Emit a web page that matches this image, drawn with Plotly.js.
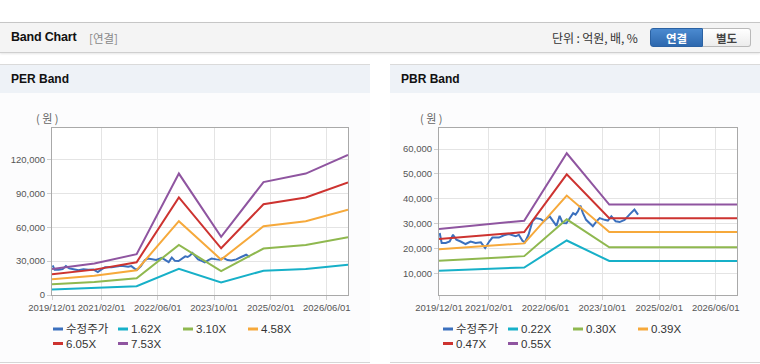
<!DOCTYPE html>
<html><head><meta charset="utf-8">
<script src="https://cdn.plot.ly/plotly-3.0.1.min.js"></script>
<style>
body{margin:0;width:760px;height:364px;overflow:hidden;background:#fff;position:relative;font-family:"Liberation Sans",Arial,"Noto Sans CJK KR",sans-serif}
#topbar{position:absolute;left:0;top:22px;width:760px;height:29px;background:#f4f4f4;border-top:1px solid #c6c6c6;border-bottom:1px solid #cfcfcf;box-shadow:0 1px 2px rgba(0,0,0,0.10)}
#title{position:absolute;left:11px;top:7px;font-size:12.5px;font-weight:bold;color:#111;letter-spacing:-0.2px}
#sub{position:absolute;left:89px;top:8px;font-size:11.5px;color:#888;font-family:"Noto Sans CJK KR",sans-serif;line-height:14px}
#unit{position:absolute;left:552px;top:8px;font-size:12px;color:#333;font-family:"Noto Sans CJK KR",sans-serif;line-height:14px;letter-spacing:-0.1px}
.btn{position:absolute;top:5px;height:19px;line-height:19px;text-align:center;font-size:11.5px;font-weight:bold;font-family:"Noto Sans CJK KR",sans-serif;box-sizing:border-box}
#b1{left:650px;width:53px;color:#fff;background:linear-gradient(#4b8ad0,#2d68ae);border:1px solid #2b62a3;border-radius:3px 0 0 3px}
#b2{left:703px;width:48px;color:#444;background:linear-gradient(#ffffff,#ececec);border:1px solid #b9b9b9;border-left:none;border-radius:0 3px 3px 0}
.panel{position:absolute;top:64px;width:370px;height:299px;background:#fcfcfd;border-top:1px solid #dadada;border-bottom:1px solid #d6d6d6;box-sizing:border-box}
.phead{position:absolute;left:0;top:0;width:100%;height:28px;background:#eef2f7}
.ptitle{position:absolute;left:11px;top:7px;font-size:12px;font-weight:bold;color:#111}
.chart{position:absolute;top:93px;width:370px;height:270px}
</style></head>
<body>
<div id="topbar">
  <span id="title">Band Chart</span>
  <span id="sub">[연결]</span>
  <span id="unit">단위 : 억원, 배, %</span>
  <div class="btn" id="b1">연결</div>
  <div class="btn" id="b2">별도</div>
</div>
<div class="panel" style="left:0"><div class="phead"><span class="ptitle">PER Band</span></div></div>
<div class="panel" style="left:390px"><div class="phead"><span class="ptitle">PBR Band</span></div></div>
<div class="chart" id="per" style="left:0"></div>
<div class="chart" id="pbr" style="left:390px"></div>
<script>
// ---- data ----
const xTickVals = ['2019-12-01','2021-02-01','2022-06-01','2023-10-01','2025-02-01','2026-06-01'];
const xTickText = ['2019/12/01','2021/02/01','2022/06/01','2023/10/01','2025/02/01','2026/06/01'];

const priceDates = ['2019-12-07','2019-12-24','2020-01-28','2020-03-02','2020-03-30','2020-04-28','2020-06-04','2020-07-16','2020-08-28','2020-10-10','2020-11-24','2020-12-31','2021-02-04','2021-03-03','2021-04-28','2021-06-10','2021-07-22','2021-09-19','2021-10-16','2021-11-16','2021-12-07','2022-01-07','2022-02-10','2022-03-10','2022-04-22','2022-05-19','2022-07-07','2022-08-04','2022-09-04','2022-10-01','2022-10-28','2022-11-28','2022-12-25','2023-01-25','2023-02-15','2023-03-07','2023-03-28','2023-04-19','2023-05-16','2023-06-16','2023-07-13','2023-08-13','2023-09-10','2023-10-22','2023-11-19','2023-12-19','2024-01-25','2024-02-28','2024-04-10','2024-05-22','2024-07-04','2024-08-04'];
const priceValues = [26300,22300,22300,22900,25600,23600,22900,21900,22900,22300,22600,20300,22900,24500,24500,25400,25900,25000,25600,23200,22600,25600,31000,32300,31900,31000,33000,31000,29200,33200,30300,30200,31900,34300,33700,35000,37300,34300,31600,30300,29000,31000,32300,31600,31300,33000,31000,30700,31600,33700,35700,33700];

const perBandDates = ['2019-12-01','2020-12-01','2021-12-01','2022-12-01','2023-12-01','2024-12-01','2025-12-01','2026-12-01'];
const per162 = [4941,6026,7776,23166,11097,21546,23166,26730];
const per310 = [9455,11532,14880,44330,21235,41230,44330,51150];
const per458 = [13969,17038,21984,65494,31373,60914,65494,75570];
const per605 = [18453,22506,29040,86515,41443,80465,86515,99825];
const per753 = [22967,28012,36144,107679,51581,100149,107679,124245];
const perNames = ['수정주가','1.62X','3.10X','4.58X','6.05X','7.53X'];
const perYTicks = [0,30000,60000,90000,120000];

const pbrBandDates = ['2019-12-01','2021-12-01','2022-12-01','2023-12-01','2026-12-01'];
const pbr022 = [11176,12496,23320,15092,15092];
const pbr030 = [15240,17040,31800,20580,20580];
const pbr039 = [19812,22152,41340,26754,26754];
const pbr047 = [23876,26696,49820,32242,32242];
const pbr055 = [27940,31240,58300,37730,37730];
const pbrNames = ['수정주가','0.22X','0.30X','0.39X','0.47X','0.55X'];
const pbrYTicks = [10000,20000,30000,40000,50000,60000];

const seriesColors = ['#3b70be','#17b0c8','#8fb84f','#f6a93b','#cd3330','#8f55a0'];

// ---- drawing ----
function makeChart(id, bandDates, bands, names, yTicks, yRange, margin, legStart, unitX) {
  const W = 370, H = 270;
  const pw = W - margin.l - margin.r, ph = H - margin.t - margin.b;
  const traces = [{x: priceDates, y: priceValues, name: names[0], type: 'scatter', mode: 'lines',
    line: {color: seriesColors[0], width: 2}}];
  bands.forEach((b, i) => traces.push({x: bandDates, y: b, name: names[i+1], type: 'scatter', mode: 'lines',
    line: {color: seriesColors[i+1], width: 2}}));
  const shapes = [], annotations = [];
  names.forEach((n, i) => {
    const col = i % 4, row = Math.floor(i / 4);
    const x0 = legStart + col * 65;
    const yPx = row === 0 ? 34 : 48.5;
    shapes.push({type: 'line', xref: 'paper', yref: 'paper', x0: x0 / pw, x1: (x0 + 10) / pw,
      y0: -yPx / ph, y1: -yPx / ph, line: {color: seriesColors[i], width: 3}});
    annotations.push({xref: 'paper', yref: 'paper', x: (x0 + 10.5) / pw, y: -yPx / ph, xanchor: 'left', yanchor: 'middle',
      text: n, showarrow: false, font: {size: 11.5, color: '#333', family: 'Liberation Sans, Arial, Noto Sans CJK KR'}});
  });
  annotations.push({xref: 'paper', yref: 'paper', x: unitX / pw, y: 1 + 10.5 / ph, xanchor: 'center', yanchor: 'middle',
    text: '( 원 )', showarrow: false, font: {size: 11, color: '#666', family: 'Noto Sans CJK KR'}});
  const layout = {
    width: W, height: H, margin: margin, showlegend: false,
    paper_bgcolor: 'rgba(0,0,0,0)', plot_bgcolor: '#ffffff',
    font: {family: 'Liberation Sans, Arial, sans-serif', size: 9.5, color: '#555'},
    xaxis: {type: 'date', range: ['2019-12-01', '2026-12-01'], tickvals: xTickVals, ticktext: xTickText,
      showgrid: true, gridcolor: '#e4e4e4', showline: true, linecolor: '#a9a9a9', mirror: true,
      ticks: 'outside', ticklen: 4, tickcolor: '#cfcfcf', zeroline: false, tickfont: {size: 9.5, color: '#555'}},
    yaxis: {range: yRange, tickvals: yTicks, tickformat: ',d', showgrid: true, gridcolor: '#e4e4e4',
      showline: true, linecolor: '#a9a9a9', mirror: true, ticks: 'outside', ticklen: 4, tickcolor: '#cfcfcf',
      zeroline: false, tickfont: {size: 9.5, color: '#555'}},
    shapes: shapes, annotations: annotations
  };
  Plotly.newPlot(id, traces, layout, {staticPlot: true, displayModeBar: false});
}

makeChart('per', perBandDates, [per162, per310, per458, per605, per753], perNames, perYTicks,
  [0, 148100], {l: 52, r: 22, t: 35, b: 68, pad: 0}, 1, -5);
makeChart('pbr', pbrBandDates, [pbr022, pbr030, pbr039, pbr047, pbr055], pbrNames, pbrYTicks,
  [1460, 68420], {l: 49, r: 23, t: 35, b: 68, pad: 0}, 4, -8.5);
</script>
</body></html>
